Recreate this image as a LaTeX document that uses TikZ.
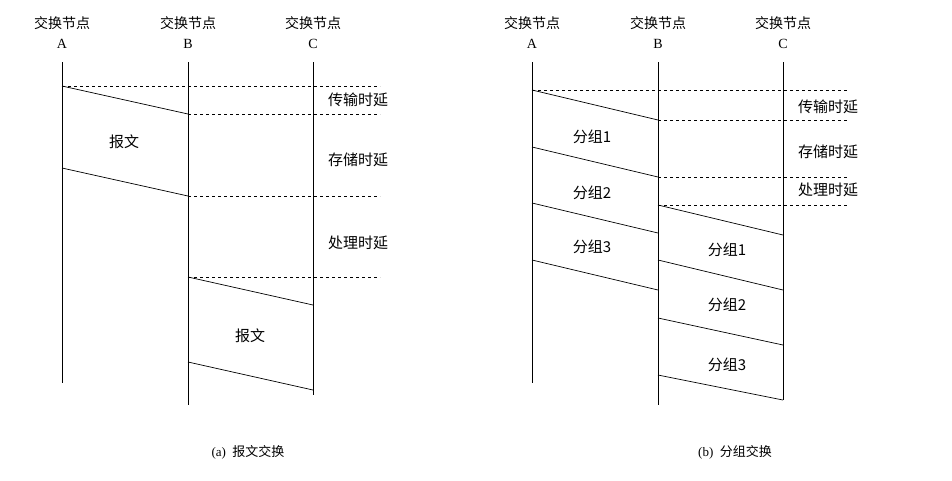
\documentclass[tikz,border=0pt]{standalone}
\usepackage{fontspec}
\setmainfont{Liberation Serif}
\newfontfamily\cjk{Noto Sans CJK SC}
\begin{document}
\begin{tikzpicture}[x=1pt,y=-1pt,
 lbl/.style={font=\cjk\fontsize{15}{17}\selectfont,inner sep=1pt},
 hd/.style={align=center,font=\fontsize{14}{20}\selectfont,inner sep=0pt},
 dl/.style={dashed,thin},
 ln/.style={line width=0.7pt}]
\useasboundingbox (0,0) rectangle (952,480);
% --- (a)
\foreach \n/\x/\l/\e in {aA/62/A/383,aB/188/B/405,aC/313/C/395}{
 \node[hd] (\n) at (\x,33) {{\cjk 交换节点}\\\l};
 \draw[ln] (\x,62) coordinate (\n t) -- (\x,\e) coordinate (\n b);}
\draw[dl] (62,86) -- (380,86);
\draw[ln] (62,86) -- (188,114);
\draw[dl] (188,114) -- (380,114);
\draw[ln] (62,168) -- (188,196);
\draw[dl] (188,196) -- (380,196);
\draw[dl] (188,277) -- (380,277);
\draw[ln] (188,277) -- (313,305);
\draw[ln] (188,362) -- (313,390);
\node[lbl] (a1) at (358,100) {传输时延};
\node[lbl] (a2) at (358,160) {存储时延};
\node[lbl] (a3) at (358,243) {处理时延};
\node[lbl] (am1) at (124,142) {报文};
\node[lbl] (am2) at (250,336) {报文};
\node[font=\fontsize{13}{14}\selectfont] (capa) at (248,452) {(a)\ \ {\cjk 报文交换}};
% --- (b)
\foreach \n/\x/\l/\e in {bA/532/A/383,bB/658/B/405,bC/783/C/400}{
 \node[hd] (\n) at (\x,33) {{\cjk 交换节点}\\\l};
 \draw[ln] (\x,62) coordinate (\n t) -- (\x,\e) coordinate (\n b);}
\draw[dl] (532,90) -- (848,90);
\draw[ln] (532,90) -- (658,120);
\draw[dl] (658,120) -- (848,120);
\draw[ln] (532,147) -- (658,177);
\draw[dl] (658,177) -- (848,177);
\draw[ln] (532,203) -- (658,233);
\draw[dl] (658,205) -- (848,205);
\draw[ln] (658,205) -- (783,235);
\draw[ln] (532,260) -- (658,290);
\draw[ln] (658,260) -- (783,290);
\draw[ln] (658,318) -- (783,345);
\draw[ln] (658,375) -- (783,400);
\node[lbl] (b1) at (828,107) {传输时延};
\node[lbl] (b2) at (828,152) {存储时延};
\node[lbl] (b3) at (828,190) {处理时延};
\node[lbl] (p1) at (592,137) {分组1};
\node[lbl] (p2) at (592,193) {分组2};
\node[lbl] (p3) at (592,247) {分组3};
\node[lbl] (q1) at (727,250) {分组1};
\node[lbl] (q2) at (727,305) {分组2};
\node[lbl] (q3) at (727,365) {分组3};
\node[font=\fontsize{13}{14}\selectfont] (capb) at (735,452) {(b)\ \ {\cjk 分组交换}};
\end{tikzpicture}
\end{document}
